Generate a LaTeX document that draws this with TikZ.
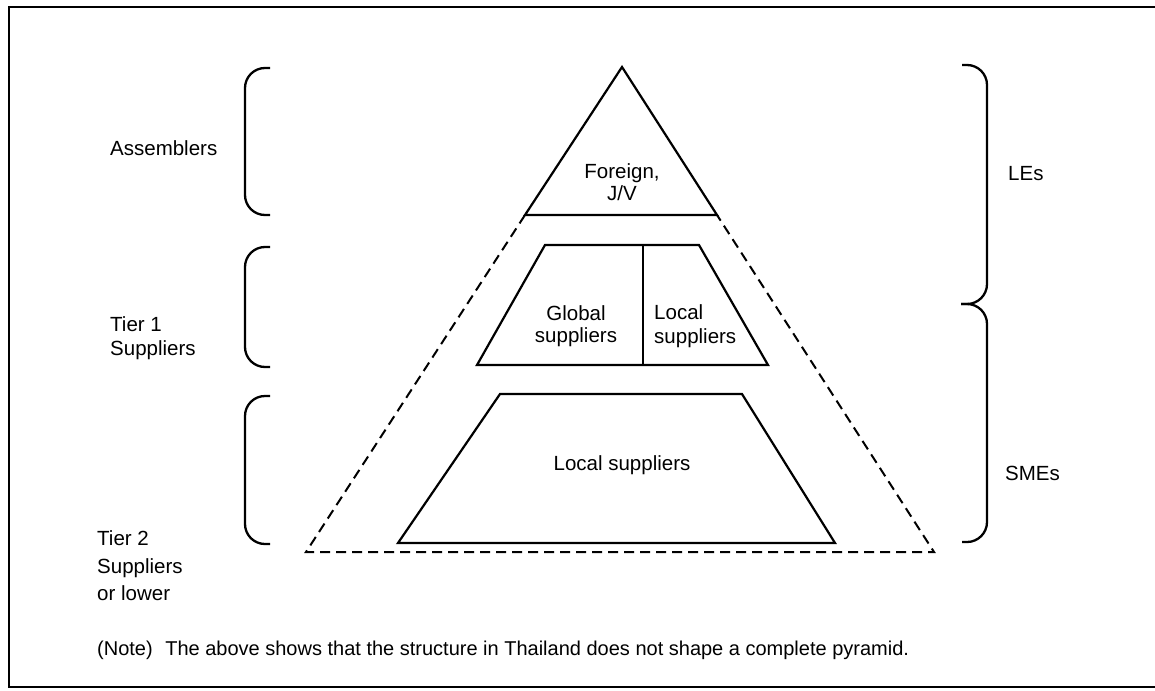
\documentclass[tikz,border=0pt]{standalone}
\usepackage{fontspec}
\setmainfont{Liberation Sans}
\begin{document}
\begin{tikzpicture}[x=1pt,y=-1pt,
  lbl/.style={font=\fontsize{20.5}{24}\selectfont, inner sep=0pt, align=left},
  ctr/.style={font=\fontsize{20.5}{22}\selectfont, inner sep=0pt, align=center},
  solidline/.style={line width=2.2pt, line join=miter},
  dashline/.style={line width=2pt, dash pattern=on 10pt off 6pt},
  bracket/.style={line width=2.3pt, rounded corners=20pt},
  frameline/.style={line width=2.8pt}]
\useasboundingbox (0,0) rectangle (1155,690);

% outer frame (open on the right)
\draw[frameline] (1155,7) -- (9,7) -- (9,687) -- (1155,687);

% top triangle: assemblers
\coordinate (apex) at (622,67);
\coordinate (tbl) at (525,215);
\coordinate (tbr) at (717,215);
\draw[solidline] (apex) -- (tbl) -- (tbr) -- cycle;
\node[ctr] (foreign) at (622,182) {Foreign,\\J/V};

% dashed outline of the full pyramid
\coordinate (dbl) at (306,552);
\coordinate (dbr) at (934,552);
\draw[dashline] (tbl) -- (dbl) -- (dbr) -- (tbr);

% tier 1 trapezoid, split in two
\coordinate (t1a) at (545,245);
\coordinate (t1b) at (699,245);
\coordinate (t1c) at (768,365);
\coordinate (t1d) at (477,365);
\coordinate (t1top) at (643,245);
\coordinate (t1bot) at (643,365);
\draw[solidline] (t1a) -- (t1b) -- (t1c) -- (t1d) -- cycle;
\draw[solidline] (t1top) -- (t1bot);
\node[ctr] (global) at (576,326) {Global\\suppliers};
\node[lbl, anchor=west] (local1) at (654,326) {Local\\suppliers};

% tier 2 trapezoid
\coordinate (t2a) at (500,394);
\coordinate (t2b) at (742,394);
\coordinate (t2c) at (835,543);
\coordinate (t2d) at (398,543);
\draw[solidline] (t2a) -- (t2b) -- (t2c) -- (t2d) -- cycle;
\node[ctr] (local2) at (622,465) {Local suppliers};

% left brackets
\coordinate (b1t) at (270,68);
\coordinate (b1b) at (270,215);
\draw[bracket] (b1t) -- (245,68) -- (245,215) -- (b1b);
\coordinate (b2t) at (270,247);
\coordinate (b2b) at (270,367);
\draw[bracket] (b2t) -- (245,247) -- (245,367) -- (b2b);
\coordinate (b3t) at (270,396);
\coordinate (b3b) at (270,544);
\draw[bracket] (b3t) -- (245,396) -- (245,544) -- (b3b);

% right brace
\coordinate (rbt) at (962,65);
\coordinate (rbm) at (961,304);
\coordinate (rbb) at (962,542);
\draw[bracket] (rbt) -- (987,65) -- (987,304) -- (rbm);
\draw[bracket] (rbm) -- (987,304) -- (987,542) -- (rbb);

% left labels
\node[lbl, anchor=west] (assemblers) at (110,148) {Assemblers};
\node[lbl, anchor=west] (tier1) at (110,338) {Tier 1\\Suppliers};
\node[lbl, anchor=west, font=\fontsize{20.5}{27.5}\selectfont] (tier2) at (97,566) {Tier 2\\Suppliers\\or lower};

% right labels
\node[lbl, anchor=west] (les) at (1008,174) {LEs};
\node[lbl, anchor=west] (smes) at (1005,473) {SMEs};

% note
\node[lbl, anchor=west, font=\fontsize{20}{24}\selectfont] (note) at (97,650) {(Note)\hspace{0.35em} The above shows that the structure in Thailand does not shape a complete pyramid.};
\end{tikzpicture}
\end{document}
